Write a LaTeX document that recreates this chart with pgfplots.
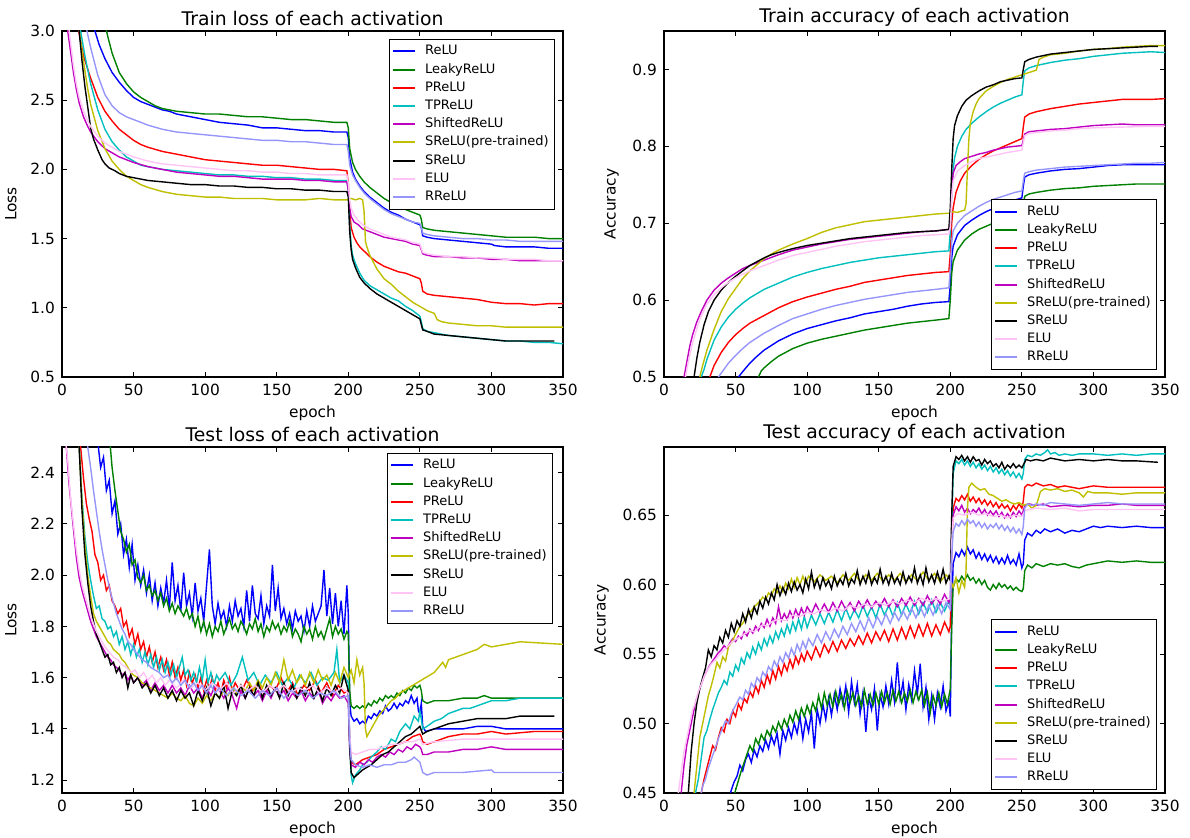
\documentclass[border=0pt]{standalone}
\usepackage{pgfplots}
\pgfplotsset{compat=1.18}
\usepgfplotslibrary{groupplots}
\usepackage{fontspec}
\setmainfont{DejaVu Sans}
\definecolor{mb}{rgb}{0,0,1}
\definecolor{mg}{rgb}{0,0.5,0}
\definecolor{mr}{rgb}{1,0,0}
\definecolor{mc}{rgb}{0,0.75,0.75}
\definecolor{mm}{rgb}{0.75,0,0.75}
\definecolor{my}{rgb}{0.75,0.75,0}
\definecolor{mk}{rgb}{0,0,0}
\definecolor{elu}{RGB}{255,196,245}
\definecolor{rrelu}{RGB}{150,150,250}
\newcommand{\leg}{\legend{ReLU,LeakyReLU,PReLU,TPReLU,ShiftedReLU,SReLU(pre-trained),SReLU,ELU,RReLU}}
\begin{document}
\begin{tikzpicture}
\begin{groupplot}[
  group style={group size=2 by 2, horizontal sep=50.5pt, vertical sep=35pt, group name=gp},
  width=250.5pt, height=173pt, scale only axis,
  xmin=0, xmax=350, xtick={0,50,...,350}, xlabel={epoch},
  /pgf/number format/assume math mode=true,
  tick label style={font=\fontsize{7.7}{9}\selectfont},
  label style={font=\fontsize{7.7}{9}\selectfont},
  xlabel style={yshift=2pt},
  title style={font=\fontsize{9.4}{11}\selectfont, yshift=-7pt},
  axis line style={line width=0.6pt},
  major tick length=2.5pt, tick style={black, line width=0.5pt},
  every axis plot/.append style={line width=0.7pt, mark=none},
  legend cell align=left,
  legend image code/.code={\draw[#1, line width=1pt] (0pt,0pt) -- (11pt,0pt);},
  legend style={font=\fontsize{6.5}{7.8}\selectfont, draw=black, fill=white,
    inner xsep=1.5pt, inner ysep=1.5pt, row sep=0pt, column sep=3pt,
    nodes={inner sep=1.5pt, text height=4.8pt, text depth=1.3pt}},
]
% ---------------- Train loss ----------------
\nextgroupplot[title={Train loss of each activation}, ylabel={Loss}, ymin=0.5, ymax=3.0,
  ytick={0.5,1.0,...,3.0}, yticklabel style={/pgf/number format/.cd, fixed, fixed zerofill, precision=1},
  legend style={at={(1,1)}, xshift=-4pt, yshift=-4pt, anchor=north east}]
\addplot[mb] coordinates {(0,4.5)(10,3.6)(20,3.12)(23,3.0)(26,2.9)(30,2.8)(35,2.7)(40,2.63)(45,2.57)(50,2.52)(55,2.49)(60,2.47)(65,2.45)(70,2.43)(75,2.42)(80,2.40)(90,2.38)(100,2.36)(110,2.34)(120,2.33)(130,2.32)(140,2.30)(150,2.30)(160,2.29)(170,2.28)(180,2.28)(190,2.27)(199,2.27)(200,2.23)(201,2.08)(203,1.98)(205,1.93)(208,1.88)(211,1.84)(215,1.80)(220,1.76)(225,1.72)(230,1.69)(235,1.67)(240,1.64)(245,1.62)(250,1.60)(251,1.58)(252,1.52)(255,1.51)(260,1.50)(270,1.49)(280,1.48)(290,1.47)(300,1.46)(302,1.45)(310,1.44)(320,1.44)(330,1.44)(340,1.43)(350,1.43)};
\addplot[mg] coordinates {(0,5)(20,3.5)(30,3.05)(32,2.96)(35,2.84)(40,2.70)(45,2.62)(50,2.56)(55,2.52)(60,2.49)(65,2.46)(70,2.44)(75,2.43)(80,2.42)(90,2.41)(100,2.40)(110,2.40)(120,2.39)(130,2.38)(140,2.38)(150,2.37)(160,2.36)(170,2.36)(180,2.35)(190,2.34)(199,2.34)(200,2.30)(201,2.15)(203,2.05)(205,2.00)(208,1.95)(211,1.91)(215,1.87)(220,1.83)(225,1.79)(230,1.76)(235,1.73)(240,1.71)(245,1.69)(250,1.67)(251,1.64)(252,1.58)(255,1.57)(260,1.56)(270,1.55)(280,1.54)(290,1.53)(300,1.52)(310,1.51)(320,1.51)(330,1.51)(340,1.50)(350,1.50)};
\addplot[mr] coordinates {(0,4.0)(10,3.1)(12,2.98)(15,2.82)(20,2.66)(25,2.52)(30,2.42)(35,2.35)(40,2.29)(45,2.25)(50,2.21)(55,2.18)(60,2.16)(70,2.13)(80,2.11)(90,2.09)(100,2.07)(110,2.06)(120,2.05)(130,2.04)(140,2.03)(150,2.03)(160,2.02)(170,2.01)(180,2.00)(190,2.00)(199,1.99)(200,1.90)(201,1.70)(202,1.58)(204,1.51)(206,1.47)(208,1.44)(211,1.41)(215,1.37)(220,1.33)(225,1.30)(230,1.28)(235,1.26)(240,1.25)(245,1.23)(250,1.21)(251,1.18)(252,1.12)(255,1.10)(260,1.09)(270,1.08)(280,1.07)(290,1.06)(300,1.04)(310,1.03)(320,1.03)(330,1.02)(340,1.03)(350,1.03)};
\addplot[mc] coordinates {(0,4.2)(10,3.25)(13,3.0)(16,2.82)(20,2.62)(25,2.43)(30,2.29)(35,2.20)(40,2.14)(45,2.09)(50,2.06)(55,2.03)(60,2.02)(70,2.00)(80,1.99)(90,1.98)(100,1.97)(110,1.96)(120,1.96)(130,1.95)(140,1.95)(150,1.94)(160,1.94)(170,1.93)(180,1.93)(190,1.92)(199,1.92)(200,1.85)(201,1.60)(202,1.45)(203,1.38)(205,1.32)(208,1.25)(211,1.20)(215,1.16)(220,1.13)(225,1.10)(230,1.07)(235,1.05)(240,1.01)(245,0.98)(250,0.94)(251,0.90)(252,0.85)(255,0.83)(260,0.82)(270,0.80)(280,0.79)(290,0.78)(300,0.77)(310,0.76)(320,0.76)(330,0.75)(340,0.75)(350,0.74)};
\addplot[mm] coordinates {(0,3.6)(4,3.0)(6,2.85)(8,2.70)(10,2.58)(12,2.48)(15,2.38)(18,2.31)(20,2.27)(25,2.20)(30,2.15)(35,2.12)(40,2.09)(45,2.07)(50,2.05)(60,2.02)(70,2.00)(80,1.98)(90,1.97)(100,1.96)(110,1.95)(120,1.95)(130,1.94)(140,1.93)(150,1.93)(160,1.93)(170,1.92)(180,1.92)(190,1.91)(199,1.91)(200,1.85)(201,1.72)(202,1.66)(204,1.62)(207,1.60)(210,1.57)(215,1.55)(220,1.53)(225,1.51)(230,1.50)(235,1.49)(240,1.48)(245,1.46)(250,1.45)(251,1.42)(252,1.39)(255,1.38)(260,1.37)(270,1.37)(280,1.36)(290,1.36)(300,1.35)(310,1.35)(320,1.34)(330,1.34)(340,1.34)(350,1.34)};
\addplot[my] coordinates {(0,4.2)(10,3.15)(12,3.0)(15,2.78)(18,2.58)(20,2.47)(25,2.28)(30,2.15)(35,2.06)(40,2.00)(45,1.95)(50,1.92)(55,1.89)(60,1.87)(70,1.84)(80,1.82)(90,1.81)(100,1.80)(110,1.80)(120,1.79)(130,1.79)(140,1.79)(150,1.78)(160,1.78)(170,1.78)(180,1.79)(190,1.78)(199,1.78)(202,1.79)(205,1.78)(208,1.79)(210,1.78)(211,1.70)(212,1.48)(213,1.44)(215,1.38)(218,1.32)(220,1.28)(225,1.21)(230,1.17)(235,1.12)(240,1.08)(245,1.04)(250,1.01)(255,0.98)(260,0.96)(261,0.94)(262,0.915)(265,0.90)(270,0.89)(280,0.88)(290,0.87)(300,0.87)(310,0.86)(320,0.86)(330,0.86)(340,0.86)(350,0.86)};
\addplot[mk] coordinates {(0,4.3)(10,3.2)(12,3.0)(14,2.78)(16,2.6)(18,2.45)(20,2.30)(22,2.22)(25,2.14)(28,2.07)(30,2.04)(33,2.01)(37,1.99)(40,1.97)(45,1.95)(50,1.94)(55,1.93)(60,1.92)(70,1.91)(80,1.90)(90,1.89)(100,1.89)(110,1.88)(120,1.88)(130,1.87)(140,1.87)(150,1.86)(160,1.86)(170,1.85)(180,1.85)(190,1.84)(199,1.84)(200,1.80)(201,1.55)(202,1.42)(203,1.35)(205,1.29)(208,1.22)(211,1.18)(215,1.14)(220,1.10)(225,1.07)(230,1.04)(235,1.01)(240,0.98)(245,0.95)(250,0.92)(251,0.88)(252,0.84)(255,0.83)(260,0.81)(270,0.80)(280,0.79)(290,0.78)(300,0.77)(310,0.76)(320,0.76)(330,0.76)(344,0.76)};
\addplot[elu] coordinates {(0,3.7)(5,3.0)(8,2.75)(10,2.62)(12,2.52)(15,2.42)(18,2.35)(20,2.31)(25,2.24)(30,2.19)(35,2.16)(40,2.13)(45,2.11)(50,2.09)(60,2.06)(70,2.04)(80,2.03)(90,2.02)(100,2.01)(110,2.00)(120,1.99)(130,1.99)(140,1.98)(150,1.98)(160,1.97)(170,1.97)(180,1.96)(190,1.96)(199,1.96)(200,1.90)(201,1.78)(202,1.72)(204,1.67)(207,1.63)(210,1.60)(215,1.57)(220,1.55)(225,1.53)(230,1.51)(235,1.50)(240,1.49)(245,1.47)(250,1.46)(251,1.43)(252,1.40)(255,1.39)(260,1.38)(270,1.37)(280,1.37)(290,1.36)(300,1.36)(310,1.35)(320,1.35)(330,1.35)(340,1.34)(350,1.34)};
\addplot[rrelu] coordinates {(0,4.5)(10,3.5)(17,3.02)(20,2.88)(25,2.68)(30,2.54)(35,2.46)(40,2.41)(45,2.38)(50,2.36)(60,2.32)(70,2.29)(80,2.27)(90,2.26)(100,2.25)(110,2.24)(120,2.23)(130,2.22)(140,2.21)(150,2.21)(160,2.20)(170,2.20)(180,2.19)(190,2.18)(199,2.18)(200,2.13)(201,2.03)(203,1.96)(205,1.92)(208,1.87)(211,1.83)(215,1.79)(220,1.75)(225,1.71)(230,1.68)(235,1.66)(240,1.64)(245,1.62)(250,1.61)(251,1.58)(252,1.54)(255,1.53)(260,1.52)(270,1.51)(280,1.50)(290,1.50)(300,1.49)(310,1.49)(320,1.48)(330,1.48)(340,1.48)(350,1.48)};
\leg
% ---------------- Train accuracy ----------------
\nextgroupplot[title={Train accuracy of each activation}, ylabel={Accuracy}, ymin=0.5, ymax=0.95,
  ytick={0.5,0.6,0.7,0.8,0.9}, yticklabel style={/pgf/number format/.cd, fixed, fixed zerofill, precision=1},
  legend style={at={(1,0)}, xshift=-4pt, yshift=3.5pt, anchor=south east}]
\addplot[mb] coordinates {(0,0.3)(52,0.50)(55,0.507)(60,0.518)(65,0.527)(70,0.535)(75,0.541)(80,0.547)(90,0.556)(100,0.563)(110,0.568)(120,0.573)(130,0.577)(140,0.582)(150,0.585)(160,0.588)(170,0.592)(180,0.595)(190,0.597)(199,0.598)(200,0.62)(201,0.655)(202,0.67)(205,0.685)(210,0.697)(215,0.704)(220,0.710)(225,0.715)(230,0.719)(235,0.723)(240,0.727)(245,0.730)(250,0.733)(251,0.748)(252,0.760)(255,0.763)(260,0.765)(270,0.768)(280,0.770)(290,0.771)(300,0.773)(310,0.775)(320,0.776)(330,0.776)(340,0.776)(350,0.776)};
\addplot[mg] coordinates {(0,0.3)(66,0.50)(68,0.508)(70,0.512)(75,0.520)(80,0.527)(90,0.537)(100,0.544)(110,0.549)(120,0.553)(130,0.557)(140,0.561)(150,0.564)(160,0.567)(170,0.570)(180,0.572)(190,0.574)(199,0.576)(200,0.60)(201,0.635)(202,0.65)(205,0.665)(210,0.678)(215,0.686)(220,0.692)(225,0.696)(230,0.700)(235,0.703)(240,0.706)(245,0.708)(250,0.711)(251,0.725)(252,0.735)(255,0.738)(260,0.740)(270,0.743)(280,0.745)(290,0.746)(300,0.748)(310,0.749)(320,0.750)(330,0.751)(340,0.751)(350,0.751)};
\addplot[mr] coordinates {(0,0.3)(32,0.50)(35,0.515)(40,0.532)(45,0.545)(50,0.555)(55,0.563)(60,0.570)(70,0.580)(80,0.590)(90,0.598)(100,0.604)(110,0.609)(120,0.614)(130,0.618)(140,0.623)(150,0.626)(160,0.629)(170,0.632)(180,0.634)(190,0.636)(199,0.637)(200,0.66)(201,0.70)(202,0.72)(204,0.740)(207,0.755)(210,0.765)(215,0.775)(220,0.783)(225,0.789)(230,0.794)(235,0.798)(240,0.802)(245,0.806)(250,0.810)(251,0.825)(252,0.838)(255,0.842)(260,0.845)(270,0.849)(280,0.852)(290,0.855)(300,0.857)(310,0.859)(320,0.861)(330,0.861)(340,0.861)(350,0.862)};
\addplot[mc] coordinates {(0,0.3)(26,0.50)(28,0.51)(30,0.523)(35,0.548)(40,0.565)(45,0.578)(50,0.588)(55,0.596)(60,0.603)(70,0.614)(80,0.622)(90,0.630)(100,0.636)(110,0.641)(120,0.645)(130,0.649)(140,0.652)(150,0.655)(160,0.657)(170,0.659)(180,0.661)(190,0.663)(199,0.664)(200,0.69)(201,0.74)(202,0.77)(203,0.785)(205,0.800)(208,0.813)(211,0.822)(215,0.830)(220,0.838)(225,0.845)(230,0.851)(235,0.856)(240,0.860)(245,0.864)(250,0.867)(251,0.885)(252,0.898)(255,0.902)(260,0.905)(270,0.909)(280,0.912)(290,0.914)(300,0.917)(310,0.919)(320,0.921)(330,0.922)(340,0.923)(350,0.922)};
\addplot[mm] coordinates {(0,0.3)(14,0.50)(16,0.52)(18,0.54)(20,0.555)(23,0.572)(26,0.585)(30,0.60)(35,0.613)(40,0.622)(45,0.629)(50,0.635)(55,0.641)(60,0.645)(70,0.652)(80,0.659)(90,0.665)(100,0.669)(110,0.673)(120,0.676)(130,0.679)(140,0.681)(150,0.683)(160,0.685)(170,0.687)(180,0.689)(190,0.690)(199,0.692)(200,0.70)(201,0.745)(202,0.765)(204,0.775)(207,0.780)(210,0.784)(215,0.787)(220,0.790)(225,0.792)(230,0.795)(235,0.797)(240,0.799)(245,0.800)(250,0.801)(251,0.808)(252,0.816)(255,0.819)(260,0.820)(270,0.822)(280,0.823)(290,0.825)(300,0.827)(310,0.828)(320,0.829)(330,0.828)(340,0.828)(350,0.828)};
\addplot[my] coordinates {(0,0.3)(25,0.50)(27,0.515)(30,0.535)(35,0.562)(40,0.585)(45,0.602)(50,0.615)(55,0.628)(60,0.638)(65,0.646)(70,0.654)(75,0.660)(80,0.665)(90,0.673)(100,0.680)(110,0.688)(120,0.694)(130,0.698)(140,0.702)(150,0.704)(160,0.706)(170,0.708)(180,0.710)(190,0.712)(199,0.713)(202,0.715)(205,0.714)(208,0.716)(210,0.717)(211,0.725)(212,0.77)(213,0.81)(214,0.83)(216,0.845)(218,0.855)(220,0.862)(225,0.872)(230,0.878)(235,0.883)(240,0.887)(245,0.890)(250,0.893)(255,0.896)(260,0.899)(261,0.905)(262,0.913)(265,0.916)(270,0.919)(280,0.921)(290,0.924)(300,0.926)(310,0.927)(320,0.929)(330,0.930)(340,0.931)(350,0.931)};
\addplot[mk] coordinates {(0,0.3)(21,0.50)(23,0.525)(25,0.545)(28,0.568)(31,0.585)(35,0.600)(40,0.613)(45,0.623)(50,0.631)(55,0.638)(60,0.645)(65,0.650)(70,0.655)(75,0.659)(80,0.662)(90,0.667)(100,0.671)(110,0.674)(120,0.677)(130,0.680)(140,0.682)(150,0.684)(160,0.686)(170,0.688)(180,0.689)(190,0.690)(199,0.692)(200,0.72)(201,0.77)(202,0.81)(203,0.827)(205,0.840)(208,0.852)(211,0.860)(215,0.866)(220,0.872)(225,0.877)(230,0.880)(235,0.884)(240,0.886)(245,0.888)(250,0.889)(251,0.900)(252,0.910)(255,0.913)(260,0.916)(270,0.920)(280,0.922)(290,0.924)(300,0.926)(310,0.927)(320,0.928)(330,0.929)(340,0.930)(345,0.930)};
\addplot[elu] coordinates {(0,0.3)(15,0.50)(17,0.52)(20,0.545)(25,0.575)(30,0.595)(35,0.607)(40,0.616)(45,0.623)(50,0.629)(60,0.638)(70,0.645)(80,0.652)(90,0.658)(100,0.662)(110,0.666)(120,0.670)(130,0.673)(140,0.676)(150,0.678)(160,0.680)(170,0.682)(180,0.684)(190,0.685)(199,0.686)(200,0.695)(201,0.735)(202,0.755)(205,0.768)(210,0.775)(215,0.780)(220,0.784)(230,0.788)(240,0.792)(250,0.795)(251,0.805)(252,0.814)(255,0.817)(260,0.818)(270,0.820)(280,0.821)(290,0.823)(300,0.824)(320,0.825)(340,0.826)(350,0.826)};
\addplot[rrelu] coordinates {(0,0.3)(38,0.50)(40,0.505)(45,0.518)(50,0.528)(55,0.537)(60,0.545)(70,0.557)(80,0.567)(90,0.576)(100,0.582)(110,0.588)(120,0.593)(130,0.597)(140,0.601)(150,0.604)(160,0.607)(170,0.610)(180,0.612)(190,0.614)(199,0.616)(200,0.64)(201,0.675)(202,0.69)(205,0.700)(210,0.710)(215,0.716)(220,0.722)(225,0.727)(230,0.731)(235,0.734)(240,0.737)(245,0.740)(250,0.742)(251,0.755)(252,0.765)(255,0.767)(260,0.769)(270,0.771)(280,0.773)(290,0.774)(300,0.775)(310,0.776)(320,0.777)(330,0.778)(340,0.778)(350,0.779)};
\leg
% ---------------- Test loss ----------------
\nextgroupplot[title={Test loss of each activation}, ylabel={Loss}, ymin=1.15, ymax=2.5,
  ytick={1.2,1.4,...,2.41}, yticklabel style={/pgf/number format/.cd, fixed, fixed zerofill, precision=1},
  legend style={at={(1,1)}, xshift=-5pt, yshift=-3pt, anchor=north east}]
\addplot[mb] coordinates {(0,3.5)(20,2.75)(25,2.52)(27,2.42)(29,2.46)(31,2.33)(33,2.37)(35,2.24)(37,2.29)(39,2.16)(41,2.20)(43,2.08)(45,2.14)(47,2.03)(49,2.12)(51,1.98)(53,2.04)(55,1.96)(57,2.02)(59,1.93)(61,2.00)(63,1.90)(65,1.97)(67,1.88)(69,1.95)(71,1.89)(73,1.98)(75,1.87)(77,2.05)(79,1.90)(81,1.96)(83,1.86)(85,2.01)(87,1.88)(89,1.93)(91,1.84)(93,1.97)(95,1.86)(97,1.91)(99,1.82)(101,1.96)(103,2.10)(105,1.88)(107,1.81)(109,1.89)(111,1.83)(113,1.86)(115,1.80)(117,1.88)(119,1.82)(121,1.90)(123,1.84)(125,1.87)(127,1.80)(129,1.94)(131,1.82)(133,1.96)(135,1.85)(137,1.83)(139,1.92)(141,1.81)(143,1.88)(145,1.84)(147,2.04)(149,1.86)(151,1.95)(153,1.83)(155,1.87)(157,1.81)(159,1.85)(161,1.79)(163,1.86)(165,1.82)(167,1.84)(169,1.78)(171,1.86)(173,1.80)(175,1.88)(177,1.82)(179,1.85)(181,1.88)(183,2.02)(185,1.84)(187,1.95)(189,1.81)(191,1.93)(193,1.80)(195,1.90)(197,1.77)(199,1.96)(200,1.85)(201,1.50)(202,1.45)(204,1.43)(206,1.44)(208,1.42)(210,1.43)(212,1.42)(214,1.45)(216,1.44)(218,1.46)(220,1.45)(222,1.47)(224,1.46)(226,1.49)(228,1.47)(230,1.48)(232,1.50)(234,1.48)(236,1.50)(238,1.49)(240,1.51)(242,1.50)(244,1.53)(246,1.50)(248,1.52)(249,1.47)(250,1.46)(251,1.50)(252,1.41)(254,1.39)(260,1.40)(270,1.40)(280,1.40)(290,1.41)(300,1.41)(310,1.40)(330,1.40)(350,1.40)};
\addplot[mg] coordinates {(0,3.8)(25,2.9)(33,2.55)(35,2.42)(37,2.33)(39,2.25)(41,2.17)(43,2.14)(45,2.09)(47,2.12)(49,2.04)(51,2.06)(53,1.99)(55,1.97)(57,2.00)(59,1.94)(61,1.96)(63,1.92)(65,1.94)(67,1.90)(69,1.93)(71,1.88)(73,1.91)(75,1.86)(77,1.89)(79,1.85)(81,1.88)(83,1.86)(85,1.84)(87,1.87)(89,1.83)(91,1.85)(93,1.80)(95,1.84)(97,1.78)(99,1.82)(101,1.77)(103,1.81)(105,1.76)(107,1.80)(109,1.78)(111,1.82)(113,1.77)(115,1.80)(117,1.83)(119,1.79)(121,1.81)(123,1.78)(125,1.82)(127,1.80)(129,1.77)(131,1.81)(133,1.79)(135,1.83)(137,1.78)(139,1.81)(141,1.76)(143,1.80)(145,1.78)(147,1.82)(149,1.79)(151,1.81)(153,1.77)(155,1.80)(157,1.78)(159,1.82)(161,1.76)(163,1.79)(165,1.77)(167,1.74)(169,1.80)(171,1.77)(173,1.79)(175,1.75)(177,1.80)(179,1.76)(181,1.78)(183,1.75)(185,1.79)(187,1.83)(189,1.76)(191,1.80)(193,1.77)(195,1.79)(197,1.75)(199,1.78)(200,1.77)(201,1.55)(202,1.49)(204,1.48)(206,1.49)(208,1.48)(210,1.49)(212,1.48)(214,1.50)(216,1.49)(218,1.51)(220,1.50)(222,1.52)(224,1.51)(226,1.53)(228,1.52)(230,1.53)(232,1.52)(234,1.54)(236,1.53)(238,1.55)(240,1.54)(242,1.56)(244,1.55)(246,1.57)(248,1.56)(250,1.57)(251,1.55)(252,1.51)(255,1.50)(260,1.51)(270,1.51)(280,1.52)(290,1.52)(295,1.53)(300,1.52)(320,1.52)(350,1.52)};
\addplot[mr] coordinates {(0,3.4)(10,2.7)(13,2.5)(15,2.38)(17,2.28)(19,2.22)(21,2.17)(23,2.08)(25,2.05)(27,1.98)(29,2.00)(31,1.94)(33,1.96)(35,1.90)(37,1.88)(39,1.85)(41,1.87)(43,1.80)(45,1.82)(47,1.76)(49,1.79)(51,1.73)(53,1.77)(55,1.71)(57,1.74)(59,1.68)(61,1.72)(63,1.66)(65,1.70)(67,1.64)(69,1.68)(71,1.63)(73,1.67)(75,1.61)(77,1.66)(79,1.60)(81,1.64)(83,1.59)(85,1.63)(87,1.57)(89,1.62)(91,1.58)(93,1.61)(95,1.56)(97,1.60)(99,1.55)(101,1.59)(103,1.56)(105,1.60)(107,1.55)(109,1.58)(111,1.54)(113,1.59)(115,1.56)(117,1.60)(119,1.55)(121,1.58)(125,1.54)(129,1.59)(133,1.55)(137,1.58)(141,1.53)(145,1.57)(149,1.55)(153,1.60)(157,1.54)(161,1.58)(165,1.53)(169,1.57)(173,1.55)(177,1.59)(181,1.54)(185,1.58)(189,1.53)(193,1.57)(197,1.54)(200,1.55)(201,1.35)(202,1.27)(205,1.26)(210,1.28)(215,1.29)(220,1.30)(225,1.32)(230,1.33)(235,1.34)(240,1.35)(245,1.37)(250,1.38)(251,1.37)(252,1.35)(255,1.34)(260,1.35)(265,1.36)(270,1.37)(280,1.38)(290,1.38)(300,1.39)(310,1.38)(330,1.39)(350,1.39)};
\addplot[mc] coordinates {(0,3.3)(10,2.65)(12,2.5)(14,2.3)(16,2.15)(18,2.05)(20,1.98)(22,1.92)(24,1.87)(26,1.88)(28,1.83)(30,1.82)(32,1.79)(34,1.80)(36,1.76)(38,1.78)(40,1.73)(42,1.76)(44,1.71)(46,1.74)(48,1.69)(50,1.73)(52,1.68)(54,1.71)(56,1.66)(58,1.70)(60,1.65)(62,1.69)(64,1.64)(66,1.68)(68,1.63)(70,1.67)(72,1.62)(74,1.66)(76,1.61)(78,1.65)(80,1.60)(82,1.64)(84,1.68)(86,1.61)(88,1.63)(90,1.59)(92,1.62)(94,1.58)(96,1.64)(98,1.59)(100,1.67)(102,1.58)(104,1.62)(106,1.57)(108,1.61)(110,1.59)(114,1.62)(118,1.57)(122,1.61)(126,1.68)(130,1.59)(134,1.62)(138,1.57)(142,1.61)(146,1.58)(150,1.62)(154,1.57)(158,1.60)(162,1.56)(166,1.61)(170,1.58)(174,1.62)(178,1.57)(182,1.60)(186,1.59)(190,1.62)(192,1.71)(194,1.58)(197,1.61)(200,1.58)(201,1.35)(202,1.22)(203,1.19)(205,1.22)(208,1.24)(210,1.26)(213,1.27)(216,1.29)(220,1.31)(223,1.33)(226,1.32)(230,1.36)(233,1.35)(236,1.39)(240,1.42)(243,1.40)(246,1.45)(249,1.43)(250,1.47)(251,1.44)(252,1.40)(255,1.41)(260,1.43)(265,1.44)(270,1.46)(275,1.47)(280,1.48)(285,1.48)(290,1.49)(295,1.50)(300,1.51)(310,1.51)(320,1.52)(350,1.52)};
\addplot[mm] coordinates {(0,2.7)(3,2.5)(5,2.35)(8,2.18)(10,2.07)(12,1.99)(14,1.94)(16,1.90)(18,1.86)(20,1.82)(22,1.79)(24,1.76)(26,1.74)(28,1.72)(30,1.70)(32,1.68)(34,1.67)(36,1.65)(38,1.64)(40,1.63)(42,1.61)(44,1.62)(46,1.59)(48,1.61)(50,1.58)(53,1.60)(56,1.57)(59,1.59)(62,1.55)(65,1.58)(68,1.55)(71,1.57)(74,1.54)(77,1.57)(80,1.54)(83,1.56)(86,1.53)(89,1.57)(92,1.54)(95,1.56)(98,1.52)(101,1.56)(104,1.53)(107,1.57)(110,1.55)(113,1.52)(116,1.56)(119,1.53)(122,1.48)(125,1.55)(128,1.52)(131,1.56)(134,1.53)(137,1.55)(140,1.51)(143,1.55)(146,1.52)(149,1.56)(152,1.53)(155,1.55)(158,1.51)(161,1.54)(164,1.52)(167,1.55)(170,1.51)(173,1.54)(176,1.52)(179,1.55)(182,1.50)(185,1.53)(188,1.51)(191,1.54)(194,1.52)(197,1.53)(200,1.50)(201,1.32)(202,1.26)(205,1.25)(208,1.27)(211,1.26)(214,1.28)(217,1.27)(220,1.29)(223,1.30)(226,1.29)(229,1.31)(232,1.30)(235,1.32)(238,1.31)(241,1.33)(244,1.32)(247,1.34)(250,1.33)(251,1.32)(252,1.30)(255,1.30)(260,1.31)(270,1.31)(280,1.32)(290,1.32)(300,1.33)(310,1.32)(330,1.32)(350,1.32)};
\addplot[my] coordinates {(0,3.4)(10,2.75)(12,2.5)(14,2.28)(16,2.12)(18,2.0)(20,1.92)(22,1.85)(24,1.82)(26,1.80)(28,1.78)(30,1.76)(32,1.74)(34,1.73)(36,1.71)(38,1.70)(40,1.69)(42,1.67)(44,1.66)(46,1.64)(48,1.62)(50,1.61)(53,1.60)(56,1.58)(59,1.57)(62,1.56)(65,1.55)(68,1.54)(71,1.53)(74,1.52)(77,1.54)(80,1.52)(83,1.51)(86,1.53)(89,1.50)(92,1.49)(95,1.52)(98,1.50)(101,1.53)(104,1.51)(107,1.54)(110,1.52)(113,1.55)(116,1.53)(119,1.56)(122,1.54)(125,1.57)(128,1.55)(131,1.58)(134,1.55)(137,1.59)(140,1.56)(143,1.60)(146,1.57)(149,1.62)(152,1.58)(155,1.67)(158,1.59)(161,1.63)(164,1.58)(167,1.61)(170,1.57)(173,1.62)(176,1.58)(179,1.63)(182,1.59)(185,1.61)(188,1.57)(191,1.62)(194,1.58)(197,1.64)(200,1.60)(202,1.63)(204,1.58)(206,1.67)(208,1.61)(210,1.64)(211,1.58)(212,1.40)(213,1.37)(215,1.39)(218,1.42)(221,1.45)(224,1.47)(227,1.49)(230,1.51)(233,1.52)(236,1.54)(239,1.55)(242,1.56)(245,1.57)(248,1.58)(251,1.59)(254,1.60)(257,1.61)(260,1.62)(263,1.64)(266,1.66)(268,1.64)(270,1.67)(275,1.68)(280,1.69)(285,1.70)(290,1.71)(295,1.73)(300,1.72)(310,1.73)(320,1.74)(350,1.73)};
\addplot[mk] coordinates {(0,3.4)(10,2.7)(12,2.5)(14,2.25)(16,2.08)(18,1.97)(20,1.88)(22,1.82)(24,1.77)(26,1.74)(28,1.71)(30,1.68)(32,1.69)(34,1.65)(36,1.66)(38,1.62)(40,1.64)(42,1.60)(44,1.62)(46,1.56)(48,1.61)(50,1.58)(53,1.60)(56,1.56)(59,1.58)(62,1.54)(65,1.57)(68,1.53)(71,1.56)(74,1.52)(77,1.55)(80,1.51)(83,1.55)(86,1.52)(89,1.54)(92,1.49)(95,1.55)(98,1.51)(101,1.56)(104,1.49)(107,1.54)(110,1.52)(113,1.57)(116,1.48)(119,1.55)(122,1.53)(125,1.57)(128,1.52)(131,1.56)(134,1.53)(137,1.58)(140,1.52)(143,1.57)(146,1.53)(149,1.56)(152,1.52)(155,1.58)(158,1.53)(161,1.57)(164,1.52)(167,1.56)(170,1.53)(173,1.58)(176,1.52)(179,1.56)(182,1.51)(185,1.56)(188,1.53)(191,1.57)(194,1.54)(197,1.61)(200,1.55)(201,1.33)(202,1.23)(204,1.21)(206,1.22)(208,1.23)(210,1.24)(213,1.25)(216,1.26)(220,1.28)(224,1.30)(228,1.31)(232,1.33)(236,1.35)(240,1.37)(244,1.38)(248,1.40)(250,1.41)(252,1.38)(255,1.39)(260,1.40)(265,1.41)(270,1.42)(280,1.43)(290,1.44)(300,1.44)(310,1.44)(320,1.45)(344,1.45)};
\addplot[elu] coordinates {(0,2.65)(4,2.45)(6,2.3)(8,2.2)(10,2.1)(12,2.02)(14,1.96)(16,1.92)(18,1.88)(20,1.84)(22,1.81)(24,1.78)(26,1.76)(28,1.74)(30,1.72)(33,1.70)(36,1.68)(39,1.67)(42,1.65)(45,1.64)(48,1.62)(51,1.63)(54,1.60)(57,1.62)(60,1.59)(63,1.61)(66,1.58)(69,1.60)(72,1.57)(75,1.59)(80,1.56)(85,1.59)(90,1.56)(95,1.58)(100,1.55)(105,1.58)(110,1.55)(115,1.58)(120,1.54)(125,1.57)(130,1.55)(135,1.57)(140,1.54)(145,1.57)(150,1.55)(155,1.57)(160,1.54)(165,1.56)(170,1.55)(175,1.57)(180,1.54)(185,1.56)(190,1.54)(195,1.56)(200,1.54)(201,1.38)(202,1.31)(205,1.30)(210,1.31)(215,1.32)(220,1.32)(225,1.33)(230,1.34)(235,1.34)(240,1.35)(245,1.35)(250,1.36)(252,1.34)(260,1.35)(280,1.36)(300,1.36)(350,1.36)};
\addplot[rrelu] coordinates {(0,3.5)(15,2.7)(18,2.5)(20,2.42)(22,2.33)(24,2.25)(26,2.17)(28,2.10)(30,2.04)(32,1.98)(34,1.93)(36,1.89)(38,1.85)(40,1.82)(42,1.79)(44,1.77)(46,1.74)(48,1.73)(50,1.71)(53,1.69)(56,1.67)(59,1.66)(62,1.64)(65,1.63)(68,1.62)(71,1.60)(74,1.61)(77,1.58)(80,1.60)(83,1.57)(86,1.59)(89,1.56)(92,1.58)(95,1.55)(98,1.57)(101,1.54)(104,1.57)(107,1.54)(110,1.56)(115,1.53)(120,1.56)(125,1.53)(130,1.55)(135,1.52)(140,1.55)(145,1.53)(150,1.56)(155,1.52)(160,1.55)(165,1.53)(170,1.55)(175,1.52)(180,1.54)(185,1.53)(190,1.55)(195,1.52)(200,1.53)(201,1.35)(202,1.28)(205,1.26)(210,1.25)(215,1.26)(220,1.25)(225,1.26)(230,1.26)(235,1.27)(240,1.27)(244,1.28)(246,1.29)(248,1.28)(250,1.27)(252,1.23)(255,1.22)(260,1.23)(280,1.23)(300,1.24)(302,1.23)(320,1.23)(350,1.23)};
\leg
% ---------------- Test accuracy ----------------
\nextgroupplot[title={Test accuracy of each activation}, ylabel={Accuracy}, ymin=0.45, ymax=0.699,
  ytick={0.45,0.50,0.55,0.60,0.65}, yticklabel style={/pgf/number format/.cd, fixed, fixed zerofill, precision=2},
  legend style={at={(1,0)}, xshift=-4pt, yshift=1.5pt, anchor=south east}]
\addplot[mb] coordinates {(0,0.30)(45,0.445)(47,0.452)(49,0.458)(51,0.462)(53,0.470)(55,0.466)(57,0.474)(59,0.478)(61,0.472)(63,0.481)(65,0.476)(67,0.484)(69,0.480)(71,0.488)(73,0.482)(75,0.491)(77,0.485)(79,0.493)(81,0.478)(83,0.495)(85,0.488)(87,0.497)(89,0.490)(91,0.500)(93,0.493)(95,0.505)(97,0.489)(99,0.503)(101,0.494)(103,0.508)(105,0.482)(107,0.510)(109,0.500)(111,0.514)(113,0.503)(115,0.518)(117,0.506)(119,0.521)(121,0.510)(123,0.525)(125,0.514)(127,0.527)(129,0.508)(131,0.530)(133,0.515)(135,0.528)(137,0.507)(139,0.522)(141,0.494)(143,0.519)(145,0.510)(147,0.525)(149,0.495)(151,0.521)(153,0.512)(155,0.527)(157,0.514)(159,0.531)(161,0.516)(163,0.544)(165,0.518)(167,0.530)(169,0.510)(171,0.528)(173,0.517)(175,0.538)(177,0.521)(179,0.543)(181,0.512)(183,0.526)(185,0.503)(187,0.520)(189,0.503)(191,0.522)(193,0.512)(195,0.527)(197,0.509)(199,0.516)(200,0.505)(201,0.580)(202,0.615)(204,0.623)(206,0.620)(208,0.625)(210,0.621)(212,0.627)(214,0.622)(216,0.625)(218,0.619)(220,0.623)(222,0.618)(224,0.622)(226,0.617)(228,0.621)(230,0.616)(232,0.620)(234,0.615)(236,0.619)(238,0.615)(240,0.621)(242,0.615)(244,0.618)(246,0.614)(248,0.622)(250,0.612)(251,0.615)(252,0.632)(254,0.637)(257,0.635)(260,0.639)(263,0.637)(266,0.640)(270,0.638)(275,0.640)(280,0.637)(285,0.639)(290,0.638)(295,0.640)(300,0.642)(305,0.641)(310,0.642)(320,0.641)(330,0.642)(340,0.641)(350,0.641)};
\addplot[mg] coordinates {(0,0.30)(48,0.445)(50,0.452)(52,0.459)(54,0.466)(56,0.472)(58,0.478)(60,0.484)(62,0.480)(64,0.489)(66,0.485)(68,0.492)(70,0.488)(72,0.495)(74,0.491)(76,0.498)(78,0.494)(80,0.501)(82,0.496)(84,0.503)(86,0.498)(88,0.506)(90,0.501)(92,0.509)(94,0.503)(96,0.511)(98,0.505)(100,0.513)(102,0.507)(104,0.515)(106,0.509)(108,0.520)(110,0.511)(112,0.522)(114,0.513)(116,0.521)(118,0.512)(120,0.523)(122,0.514)(124,0.521)(126,0.511)(128,0.523)(130,0.515)(132,0.522)(134,0.513)(136,0.520)(138,0.512)(140,0.524)(142,0.514)(144,0.521)(146,0.513)(148,0.522)(150,0.514)(152,0.523)(154,0.515)(156,0.522)(158,0.514)(160,0.524)(162,0.516)(164,0.523)(166,0.515)(168,0.522)(170,0.516)(172,0.524)(174,0.515)(176,0.523)(178,0.517)(180,0.524)(182,0.513)(184,0.522)(186,0.508)(188,0.520)(190,0.513)(192,0.522)(194,0.512)(196,0.521)(198,0.514)(200,0.525)(201,0.570)(202,0.598)(204,0.604)(206,0.602)(208,0.606)(210,0.603)(212,0.607)(214,0.603)(216,0.605)(218,0.601)(220,0.604)(222,0.600)(224,0.603)(226,0.598)(228,0.596)(230,0.600)(232,0.597)(234,0.601)(236,0.598)(238,0.600)(240,0.597)(242,0.599)(244,0.596)(246,0.598)(248,0.596)(250,0.595)(251,0.597)(252,0.610)(254,0.614)(257,0.612)(260,0.615)(265,0.613)(270,0.615)(275,0.614)(280,0.615)(285,0.613)(290,0.612)(295,0.614)(300,0.615)(305,0.616)(310,0.617)(320,0.616)(330,0.617)(340,0.616)(350,0.616)};
\addplot[mr] coordinates {(0,0.35)(24,0.44)(26,0.45)(28,0.46)(30,0.468)(32,0.476)(34,0.484)(36,0.481)(38,0.49)(40,0.497)(42,0.494)(44,0.503)(46,0.500)(48,0.509)(50,0.505)(52,0.514)(54,0.510)(56,0.518)(58,0.515)(60,0.523)(62,0.519)(64,0.527)(66,0.522)(68,0.531)(70,0.526)(72,0.535)(74,0.529)(76,0.538)(78,0.532)(80,0.541)(82,0.535)(84,0.543)(86,0.538)(88,0.546)(90,0.540)(92,0.548)(94,0.543)(96,0.550)(98,0.545)(100,0.552)(103,0.546)(106,0.555)(109,0.548)(112,0.557)(115,0.551)(118,0.559)(121,0.552)(124,0.560)(127,0.554)(130,0.561)(133,0.556)(136,0.563)(139,0.557)(142,0.565)(145,0.558)(148,0.566)(151,0.560)(154,0.567)(157,0.559)(160,0.568)(163,0.560)(166,0.569)(169,0.561)(172,0.570)(175,0.562)(178,0.571)(181,0.563)(184,0.572)(187,0.563)(190,0.571)(193,0.564)(196,0.573)(199,0.566)(200,0.570)(201,0.625)(202,0.655)(204,0.662)(206,0.660)(208,0.664)(210,0.661)(212,0.665)(214,0.660)(216,0.663)(218,0.659)(220,0.662)(222,0.658)(224,0.661)(226,0.657)(228,0.660)(230,0.656)(232,0.659)(234,0.655)(236,0.658)(238,0.655)(240,0.657)(242,0.653)(244,0.657)(246,0.654)(248,0.658)(250,0.655)(251,0.660)(252,0.670)(254,0.672)(257,0.671)(260,0.673)(265,0.671)(270,0.672)(275,0.670)(280,0.671)(285,0.670)(290,0.669)(295,0.670)(300,0.671)(310,0.670)(320,0.670)(330,0.670)(350,0.670)};
\addplot[mc] coordinates {(0,0.36)(20,0.44)(22,0.45)(24,0.46)(26,0.475)(28,0.49)(30,0.495)(32,0.503)(34,0.51)(36,0.516)(38,0.522)(40,0.526)(42,0.531)(44,0.528)(46,0.537)(48,0.534)(50,0.542)(52,0.538)(54,0.547)(56,0.543)(58,0.551)(60,0.547)(62,0.555)(64,0.550)(66,0.558)(68,0.553)(70,0.561)(72,0.556)(74,0.563)(76,0.558)(78,0.566)(80,0.561)(82,0.568)(84,0.563)(86,0.571)(88,0.565)(90,0.573)(92,0.567)(94,0.575)(96,0.568)(98,0.577)(100,0.569)(103,0.578)(106,0.571)(109,0.579)(112,0.572)(115,0.580)(118,0.573)(121,0.582)(124,0.574)(127,0.583)(130,0.575)(133,0.582)(136,0.576)(139,0.585)(142,0.577)(145,0.584)(148,0.576)(151,0.586)(154,0.578)(157,0.585)(160,0.577)(163,0.587)(166,0.578)(169,0.586)(172,0.579)(175,0.588)(178,0.579)(181,0.587)(184,0.580)(187,0.589)(190,0.580)(193,0.587)(196,0.581)(199,0.588)(200,0.585)(201,0.640)(202,0.680)(204,0.689)(206,0.687)(208,0.690)(210,0.686)(212,0.689)(214,0.685)(216,0.688)(218,0.684)(220,0.687)(222,0.683)(224,0.686)(226,0.682)(228,0.685)(230,0.681)(232,0.684)(234,0.680)(236,0.683)(238,0.679)(240,0.682)(242,0.678)(244,0.681)(246,0.677)(248,0.680)(250,0.676)(251,0.680)(252,0.690)(254,0.693)(257,0.692)(260,0.694)(263,0.693)(266,0.695)(268,0.697)(270,0.694)(273,0.695)(276,0.693)(280,0.694)(285,0.693)(290,0.694)(300,0.694)(310,0.693)(320,0.694)(330,0.693)(340,0.694)(350,0.694)};
\addplot[mm] coordinates {(0,0.38)(12,0.45)(14,0.47)(16,0.485)(18,0.495)(20,0.505)(22,0.515)(24,0.522)(26,0.528)(28,0.534)(30,0.538)(32,0.542)(34,0.545)(36,0.548)(38,0.551)(40,0.553)(42,0.556)(44,0.554)(46,0.558)(48,0.561)(50,0.559)(52,0.563)(54,0.561)(56,0.566)(58,0.563)(60,0.568)(62,0.565)(64,0.570)(66,0.567)(68,0.572)(70,0.569)(72,0.575)(74,0.570)(76,0.576)(78,0.572)(80,0.584)(82,0.574)(84,0.579)(86,0.575)(88,0.581)(90,0.576)(92,0.582)(94,0.577)(96,0.583)(98,0.578)(100,0.584)(103,0.579)(106,0.586)(109,0.580)(112,0.586)(115,0.580)(118,0.587)(121,0.581)(124,0.588)(127,0.582)(130,0.587)(133,0.581)(136,0.588)(139,0.583)(142,0.589)(145,0.583)(148,0.588)(151,0.584)(154,0.590)(157,0.584)(160,0.589)(163,0.584)(166,0.590)(169,0.585)(172,0.591)(175,0.585)(178,0.590)(181,0.585)(184,0.592)(187,0.586)(190,0.591)(193,0.586)(196,0.593)(199,0.587)(200,0.590)(201,0.635)(202,0.650)(204,0.656)(206,0.653)(208,0.657)(210,0.652)(212,0.655)(214,0.651)(216,0.654)(218,0.652)(220,0.655)(222,0.651)(224,0.654)(226,0.650)(228,0.653)(230,0.650)(232,0.653)(234,0.649)(236,0.652)(238,0.648)(240,0.651)(242,0.648)(244,0.652)(246,0.649)(248,0.653)(250,0.650)(251,0.653)(252,0.657)(255,0.658)(260,0.657)(265,0.658)(270,0.656)(280,0.657)(290,0.656)(300,0.657)(310,0.657)(320,0.658)(330,0.657)(350,0.657)};
\addplot[my] coordinates {(0,0.36)(19,0.44)(21,0.45)(23,0.47)(25,0.49)(27,0.50)(29,0.51)(31,0.52)(33,0.527)(35,0.535)(37,0.544)(39,0.540)(41,0.548)(43,0.545)(45,0.555)(47,0.558)(49,0.562)(51,0.566)(53,0.570)(55,0.572)(57,0.576)(59,0.579)(61,0.581)(63,0.584)(65,0.586)(67,0.588)(69,0.591)(71,0.589)(73,0.594)(75,0.592)(77,0.597)(79,0.594)(81,0.599)(83,0.595)(85,0.601)(87,0.597)(89,0.604)(91,0.598)(93,0.605)(95,0.600)(97,0.606)(99,0.601)(101,0.606)(105,0.602)(109,0.607)(113,0.603)(117,0.606)(121,0.601)(125,0.607)(129,0.603)(133,0.608)(137,0.602)(141,0.607)(145,0.603)(149,0.608)(153,0.602)(157,0.607)(161,0.603)(165,0.608)(169,0.602)(173,0.607)(177,0.603)(181,0.609)(185,0.603)(189,0.608)(193,0.602)(197,0.607)(200,0.604)(202,0.598)(204,0.605)(206,0.594)(208,0.603)(210,0.598)(211,0.610)(212,0.655)(213,0.670)(215,0.673)(218,0.670)(221,0.668)(224,0.669)(227,0.665)(230,0.664)(233,0.662)(236,0.660)(239,0.661)(242,0.659)(245,0.658)(248,0.659)(251,0.657)(254,0.658)(257,0.655)(260,0.657)(261,0.660)(263,0.667)(266,0.669)(270,0.668)(275,0.669)(280,0.667)(285,0.668)(290,0.666)(293,0.663)(296,0.667)(300,0.666)(310,0.666)(320,0.665)(330,0.666)(350,0.666)};
\addplot[mk] coordinates {(0,0.38)(15,0.44)(17,0.45)(19,0.48)(21,0.50)(23,0.515)(25,0.525)(27,0.533)(29,0.54)(31,0.553)(33,0.548)(35,0.556)(37,0.553)(39,0.562)(41,0.558)(43,0.567)(45,0.562)(47,0.572)(49,0.566)(51,0.574)(53,0.570)(55,0.579)(57,0.573)(59,0.582)(61,0.576)(63,0.584)(65,0.579)(67,0.588)(69,0.583)(71,0.591)(73,0.586)(75,0.594)(77,0.589)(79,0.600)(81,0.592)(83,0.598)(85,0.593)(87,0.601)(89,0.595)(91,0.602)(93,0.596)(95,0.600)(97,0.594)(99,0.604)(101,0.597)(103,0.609)(105,0.598)(107,0.604)(109,0.597)(111,0.605)(113,0.599)(115,0.603)(117,0.597)(119,0.606)(121,0.599)(123,0.604)(125,0.600)(127,0.608)(129,0.599)(131,0.604)(133,0.601)(135,0.610)(137,0.600)(139,0.606)(141,0.601)(143,0.609)(145,0.600)(147,0.605)(149,0.601)(151,0.611)(153,0.601)(155,0.606)(157,0.600)(159,0.608)(161,0.601)(163,0.605)(165,0.600)(167,0.609)(169,0.601)(171,0.606)(173,0.602)(175,0.612)(177,0.601)(179,0.607)(181,0.600)(183,0.612)(185,0.602)(187,0.607)(189,0.601)(191,0.609)(193,0.602)(195,0.611)(197,0.601)(199,0.606)(200,0.603)(201,0.650)(202,0.685)(204,0.692)(206,0.690)(208,0.693)(210,0.689)(212,0.692)(214,0.688)(216,0.692)(218,0.689)(220,0.690)(222,0.686)(224,0.690)(226,0.687)(228,0.689)(230,0.685)(232,0.687)(234,0.684)(236,0.688)(238,0.683)(240,0.686)(242,0.684)(244,0.687)(246,0.684)(248,0.686)(250,0.684)(251,0.686)(253,0.690)(256,0.689)(260,0.690)(265,0.689)(270,0.691)(275,0.690)(280,0.689)(290,0.690)(300,0.689)(310,0.690)(320,0.689)(330,0.689)(345,0.688)};
\addplot[elu] coordinates {(0,0.40)(10,0.45)(12,0.465)(14,0.48)(16,0.49)(18,0.50)(20,0.51)(22,0.515)(24,0.523)(26,0.528)(28,0.534)(30,0.538)(33,0.543)(36,0.546)(39,0.550)(42,0.553)(45,0.556)(48,0.559)(51,0.561)(54,0.563)(57,0.565)(60,0.567)(63,0.566)(66,0.569)(69,0.571)(72,0.570)(75,0.573)(80,0.575)(85,0.574)(90,0.578)(95,0.577)(100,0.580)(105,0.579)(110,0.582)(115,0.580)(120,0.583)(125,0.581)(130,0.585)(135,0.583)(140,0.586)(145,0.584)(150,0.587)(155,0.585)(160,0.588)(165,0.586)(170,0.589)(175,0.587)(180,0.590)(185,0.588)(190,0.590)(195,0.588)(200,0.590)(201,0.630)(202,0.648)(205,0.651)(210,0.650)(215,0.652)(220,0.650)(225,0.651)(230,0.649)(235,0.650)(240,0.648)(245,0.650)(250,0.649)(252,0.653)(255,0.654)(260,0.655)(270,0.654)(280,0.655)(290,0.653)(300,0.654)(320,0.654)(350,0.654)};
\addplot[rrelu] coordinates {(0,0.35)(25,0.445)(27,0.455)(29,0.46)(31,0.468)(33,0.474)(35,0.48)(37,0.486)(39,0.492)(41,0.497)(43,0.502)(45,0.500)(47,0.507)(49,0.511)(51,0.515)(53,0.519)(55,0.517)(57,0.524)(59,0.521)(61,0.529)(63,0.526)(65,0.533)(67,0.530)(69,0.537)(71,0.534)(73,0.541)(75,0.538)(77,0.545)(79,0.541)(81,0.548)(83,0.544)(85,0.551)(87,0.547)(89,0.554)(91,0.549)(93,0.557)(95,0.552)(97,0.559)(99,0.554)(101,0.561)(104,0.556)(107,0.564)(110,0.558)(113,0.566)(116,0.560)(119,0.568)(122,0.562)(125,0.570)(128,0.564)(131,0.572)(134,0.566)(137,0.574)(140,0.567)(143,0.576)(146,0.569)(149,0.577)(152,0.571)(155,0.579)(158,0.572)(161,0.580)(164,0.574)(167,0.581)(170,0.575)(173,0.583)(176,0.576)(179,0.584)(182,0.577)(185,0.585)(188,0.578)(191,0.586)(194,0.579)(197,0.587)(200,0.582)(201,0.620)(202,0.638)(204,0.644)(206,0.642)(208,0.646)(210,0.643)(212,0.647)(214,0.644)(216,0.646)(218,0.642)(220,0.645)(222,0.641)(224,0.644)(226,0.640)(228,0.643)(230,0.641)(232,0.644)(234,0.640)(236,0.643)(238,0.639)(240,0.642)(242,0.638)(244,0.641)(246,0.637)(248,0.640)(250,0.636)(251,0.642)(252,0.655)(254,0.658)(257,0.657)(260,0.658)(265,0.657)(270,0.659)(280,0.658)(290,0.657)(300,0.658)(310,0.659)(320,0.658)(330,0.658)(350,0.658)};
\leg
\end{groupplot}
\pgfresetboundingbox
\path (gp c1r1.south west) ++(-31pt,-230.5pt) rectangle ++(595pt,419pt);
\end{tikzpicture}
\end{document}
